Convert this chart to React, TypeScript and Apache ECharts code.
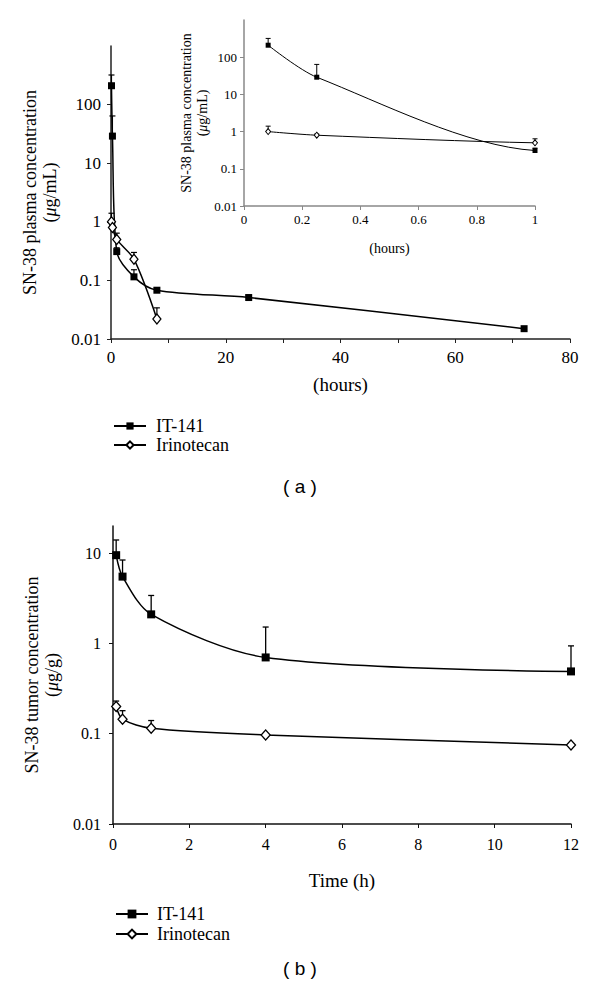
import React, { useEffect, useRef } from 'react';
import * as echarts from 'echarts';

// ---- (a) plasma ----
const plasmaTime = [0.083, 0.25, 1, 4, 8, 24, 72];
const it141Plasma = [210, 29, 0.31, 0.115, 0.068, 0.051, 0.015];
const it141PlasmaUpper = [320, 64, 0.36, 0.152, 0.075, 0.056, null];
const irinoPlasmaTime = [0.083, 0.25, 1, 4, 8];
const irinoPlasma = [1.0, 0.8, 0.5, 0.23, 0.022];
const irinoPlasmaUpper = [1.4, 0.86, 0.64, 0.3, 0.034];
const insetCount = 3; // time points within 0–1 h (error bars shown in the inset)

// ---- (b) tumor ----
const tumorTime = [0.083, 0.25, 1, 4, 12];
const it141Tumor = [9.5, 5.5, 2.1, 0.7, 0.49];
const it141TumorUpper = [14, 8.4, 3.4, 1.52, 0.94];
const irinoTumor = [0.2, 0.145, 0.115, 0.097, 0.075];
const irinoTumorUpper = [0.23, 0.18, 0.14, null, null];

const seriesNames = ['IT-141', 'Irinotecan'];
const logTickLabels = ['0.01', '0.1', '1', '10', '100'];

const SERIF = "'Liberation Serif', 'Times New Roman', serif";

const logFmt = (v: number) => {
  const s = String(Number(v.toPrecision(3)));
  return logTickLabels.includes(s) ? s : '';
};

const pairs = (x: number[], y: number[]) => x.map((t, i) => [t, y[i]]);

function errorSeries(x: number[], y: number[], up: (number | null)[], axis: number, cap: number, width: number) {
  const data: number[][] = [];
  x.forEach((t, i) => {
    if (up[i] != null) data.push([t, y[i], up[i] as number]);
  });
  return {
    type: 'custom',
    xAxisIndex: axis,
    yAxisIndex: axis,
    z: 1,
    silent: true,
    data,
    encode: { x: 0, y: [1, 2] },
    renderItem: (params: any, api: any) => {
      const p0 = api.coord([api.value(0), api.value(1)]);
      const p1 = api.coord([api.value(0), api.value(2)]);
      const st = { stroke: '#000', lineWidth: width };
      return {
        type: 'group',
        children: [
          { type: 'line', shape: { x1: p0[0], y1: p0[1], x2: p1[0], y2: p1[1] }, style: st },
          { type: 'line', shape: { x1: p1[0] - cap, y1: p1[1], x2: p1[0] + cap, y2: p1[1] }, style: st },
        ],
      };
    },
  };
}

function lineSeries(name: string, data: number[][], axis: number, square: boolean, size: any, lw: number, bw: number) {
  return {
    type: 'line',
    name,
    xAxisIndex: axis,
    yAxisIndex: axis,
    data,
    smooth: 0.3,
    clip: true,
    symbol: square ? 'rect' : 'diamond',
    symbolSize: size,
    showAllSymbol: true,
    z: 3,
    lineStyle: { color: '#000', width: lw },
    itemStyle: square ? { color: '#000' } : { color: '#fff', borderColor: '#000', borderWidth: bw },
    emphasis: { disabled: true },
  };
}

export default function App() {
  const ref = useRef<HTMLDivElement>(null);
  useEffect(() => {
    if (!ref.current) return;
    const chart = echarts.init(ref.current, undefined, { renderer: 'svg' });
    const tickFont = (size: number) => ({ fontFamily: SERIF, fontSize: size, color: '#000' });
    const nameStyle = (size: number) => ({
      fontFamily: SERIF,
      fontSize: size,
      color: '#000',
      lineHeight: size + 2,
      rich: { it: { fontFamily: SERIF, fontSize: size, fontStyle: 'italic', color: '#000' } },
    });
    const axisLine = (c: string, w: number) => ({ show: true, lineStyle: { color: c, width: w } });

    const option: any = {
      animation: false,
      backgroundColor: '#fff',
      textStyle: { fontFamily: SERIF, color: '#000' },
      grid: [
        { left: 111, top: 46, width: 459, height: 293 },
        { left: 244, top: 20, width: 291, height: 186 },
        { left: 113, top: 526, width: 458, height: 298 },
      ],
      xAxis: [
        {
          gridIndex: 0, type: 'value', min: 0, max: 80, interval: 10,
          axisLine: axisLine('#222', 1.5), axisTick: { show: true, length: 4, lineStyle: { color: '#222' } },
          splitLine: { show: false },
          axisLabel: { ...tickFont(17), margin: 10, formatter: (v: number) => (v % 20 === 0 ? String(v) : '') },
          name: '(hours)', nameLocation: 'middle', nameGap: 35, nameTextStyle: nameStyle(19),
        },
        {
          gridIndex: 1, type: 'value', min: 0, max: 1, interval: 0.2,
          axisLine: axisLine('#888', 1.5), axisTick: { show: true, length: 4, lineStyle: { color: '#888' } },
          splitLine: { show: false },
          axisLabel: { ...tickFont(13), margin: 7, formatter: (v: number) => String(Number(v.toFixed(1))) },
          name: '(hours)', nameLocation: 'middle', nameGap: 34, nameTextStyle: nameStyle(14),
        },
        {
          gridIndex: 2, type: 'value', min: 0, max: 12, interval: 2,
          axisLine: axisLine('#111', 1.5), axisTick: { show: true, length: 4, lineStyle: { color: '#111' } },
          splitLine: { show: false },
          axisLabel: { ...tickFont(16), margin: 12 },
          name: 'Time (h)', nameLocation: 'middle', nameGap: 46, nameTextStyle: nameStyle(19),
        },
      ],
      yAxis: [
        {
          gridIndex: 0, type: 'log', logBase: 10, min: 0.01, max: 1000,
          axisLine: axisLine('#222', 1.5), axisTick: { show: true, length: 4, lineStyle: { color: '#222' } },
          splitLine: { show: false }, minorTick: { show: false },
          axisLabel: { ...tickFont(17), margin: 10, formatter: logFmt, showMaxLabel: false },
          name: 'SN-38 plasma concentration\n({it|μ}g/mL)', nameLocation: 'middle', nameGap: 49, nameTextStyle: nameStyle(18),
        },
        {
          gridIndex: 1, type: 'log', logBase: 10, min: 0.01, max: 1000,
          axisLine: axisLine('#888', 1.5), axisTick: { show: true, length: 4, lineStyle: { color: '#888' } },
          splitLine: { show: false },
          axisLabel: { ...tickFont(13), margin: 7, formatter: logFmt, showMaxLabel: false },
          name: 'SN-38 plasma concentration\n({it|μ}g/mL)', nameLocation: 'middle', nameGap: 32, nameTextStyle: nameStyle(14),
        },
        {
          gridIndex: 2, type: 'log', logBase: 10, min: 0.01, max: 20,
          axisLine: axisLine('#111', 1.5), axisTick: { show: true, length: 4, lineStyle: { color: '#111' } },
          splitLine: { show: false },
          axisLabel: { ...tickFont(16), margin: 12, formatter: logFmt, showMaxLabel: false },
          name: 'SN-38 tumor concentration\n({it|μ}g/g)', nameLocation: 'middle', nameGap: 51, nameTextStyle: nameStyle(18),
        },
      ],
      legend: [
        {
          left: 108, top: 412, orient: 'vertical', itemWidth: 32, itemHeight: 9, itemGap: 1,
          selectedMode: false, data: seriesNames,
          textStyle: { fontFamily: SERIF, fontSize: 18, color: '#000', padding: [0, 0, 0, 5] },
        },
        {
          left: 110, top: 900, orient: 'vertical', itemWidth: 32, itemHeight: 11, itemGap: 2,
          selectedMode: false, data: seriesNames,
          textStyle: { fontFamily: SERIF, fontSize: 18, color: '#000', padding: [0, 0, 0, 4] },
        },
      ],
      graphic: [
        { type: 'text', left: 'center', top: 477, style: { text: '( a )', fontFamily: 'Liberation Sans', fontSize: 19, fill: '#000' } },
        { type: 'text', left: 'center', top: 959, style: { text: '( b )', fontFamily: 'Liberation Sans', fontSize: 19, fill: '#000' } },
      ],
      series: [
        // (a) main
        errorSeries(plasmaTime, it141Plasma, it141PlasmaUpper, 0, 3, 1.2),
        errorSeries(irinoPlasmaTime, irinoPlasma, irinoPlasmaUpper, 0, 3, 1.2),
        lineSeries(seriesNames[0], pairs(plasmaTime, it141Plasma), 0, true, 7, 1.5, 1.2),
        lineSeries(seriesNames[1], pairs(irinoPlasmaTime, irinoPlasma), 0, false, [8, 10], 1.5, 1.3),
        // (a) inset: same data, x axis cut at 1 h
        errorSeries(plasmaTime.slice(0, insetCount), it141Plasma, it141PlasmaUpper, 1, 2.5, 1),
        errorSeries(irinoPlasmaTime.slice(0, insetCount), irinoPlasma, irinoPlasmaUpper, 1, 2.5, 1),
        lineSeries(seriesNames[0], pairs(plasmaTime, it141Plasma), 1, true, 5, 1, 1),
        lineSeries(seriesNames[1], pairs(irinoPlasmaTime, irinoPlasma), 1, false, [5, 6], 1, 1),
        // (b)
        errorSeries(tumorTime, it141Tumor, it141TumorUpper, 2, 3, 1.3),
        errorSeries(tumorTime, irinoTumor, irinoTumorUpper, 2, 3, 1.3),
        lineSeries(seriesNames[0], pairs(tumorTime, it141Tumor), 2, true, 8, 1.5, 1.3),
        lineSeries(seriesNames[1], pairs(tumorTime, irinoTumor), 2, false, [9, 10], 1.5, 1.3),
      ],
    };
    chart.setOption(option);
    return () => chart.dispose();
  }, []);
  return (
    <div
      ref={ref}
      style={{ position: 'fixed', left: 0, top: 0, width: 600, height: 994, background: '#fff' }}
    />
  );
}
